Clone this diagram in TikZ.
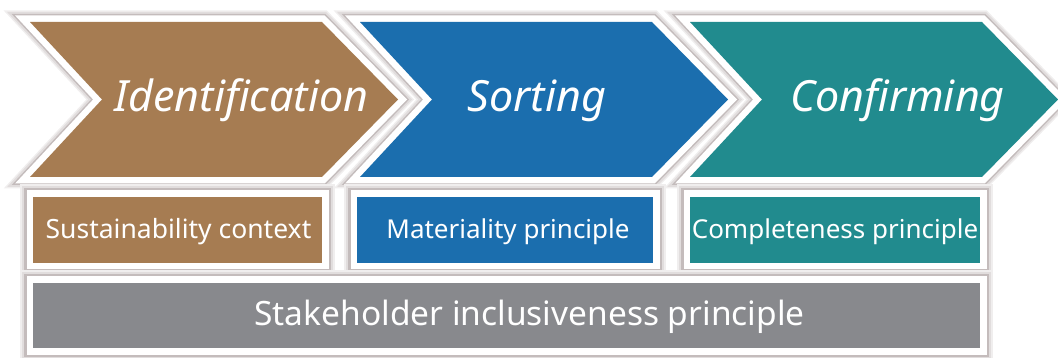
\documentclass[tikz,border=0pt]{standalone}
\usepackage{fontspec}
\setmainfont{Noto Sans}
\definecolor{cbrown}{RGB}{166,124,82}
\definecolor{cblue}{RGB}{27,110,174}
\definecolor{cteal}{RGB}{33,139,142}
\definecolor{cgray}{RGB}{136,137,141}
\definecolor{cshadow}{RGB}{196,188,188}
\begin{document}
\begin{tikzpicture}[x=1pt,y=-1pt,
  chevsh/.style={draw=cshadow,miter limit=10},
  chevwh/.style={draw=white,line width=13pt,miter limit=10},
  chevtext/.style={anchor=base,text=white,font=\fontsize{43}{43}\selectfont\itshape,inner sep=0pt},
  box/.style={draw=white,line width=6.5pt,inner sep=0pt,
    preaction={draw=cshadow!25,line width=19pt},
    preaction={draw=cshadow!50,line width=15pt},
    preaction={draw=cshadow,line width=11pt}},
  boxtext/.style={anchor=base,inner sep=0pt,text=white,font=\fontsize{26}{26}\selectfont},
  bigtext/.style={anchor=base,inner sep=0pt,text=white,font=\fontsize{33.5}{33.5}\selectfont}]
\useasboundingbox (0,0) rectangle (1058,358);
\newcommand\chevpath[1]{(#1,22) -- (#1+292,22) -- (#1+368,99.5) -- (#1+292,177) -- (#1,177) -- (#1+72,99.5) -- cycle}
\foreach \xo/\col in {30/cbrown,360/cblue,690/cteal}{
  \draw[chevsh,draw=cshadow!25,line width=23pt] \chevpath{\xo};
  \draw[chevsh,draw=cshadow!50,line width=20pt] \chevpath{\xo};
  \draw[chevsh,line width=16pt] \chevpath{\xo};
  \draw[chevwh] \chevpath{\xo};
  \fill[\col] \chevpath{\xo};
}
\node[chevtext] (t1) at (241.5,112) {Identification};
\node[chevtext] (t2) at (537,112) {Sorting};
\node[chevtext] (t3) at (897.5,112) {Confirming};
\node[box,fill=cbrown,minimum width=295.5pt,minimum height=72.5pt] (b1) at (177.5,230) {};
\node[box,fill=cblue,minimum width=302.5pt,minimum height=72.5pt] (b2) at (505,230) {};
\node[box,fill=cteal,minimum width=296.5pt,minimum height=72.5pt] (b3) at (835,230) {};
\node[box,fill=cgray,minimum width=953.5pt,minimum height=71.5pt] (b4) at (506.5,315.5) {};
\node[boxtext,font=\fontsize{26.5}{26.5}\selectfont] (l1) at (178.5,239) {Sustainability context};
\node[boxtext] (l2) at (508,239) {Materiality principle};
\node[boxtext] (l3) at (835,239) {Completeness principle};
\node[bigtext] (l4) at (529.5,325) {Stakeholder inclusiveness principle};
\end{tikzpicture}
\end{document}
